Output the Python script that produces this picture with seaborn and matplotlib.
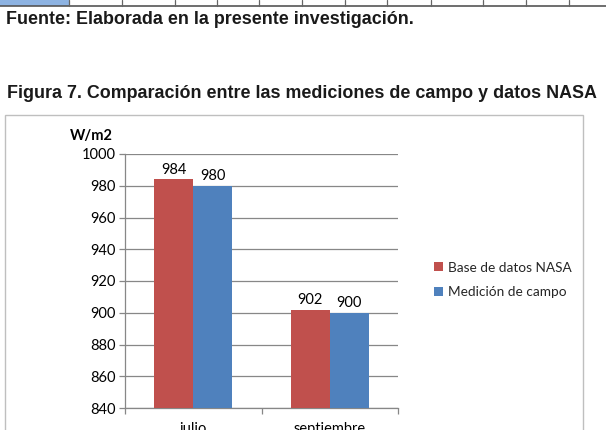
import matplotlib
matplotlib.use("Agg")
import matplotlib.pyplot as plt
import seaborn as sns
import pandas as pd
from matplotlib.patches import Rectangle
from matplotlib.lines import Line2D

# ---- data ----
months = ["julio", "septiembre"]
series = ["Base de datos NASA", "Medición de campo"]
nasa_values = [984, 902]
field_values = [980, 900]
y_ticks = [840, 860, 880, 900, 920, 940, 960, 980, 1000]

df = pd.DataFrame({
    "Mes": months * 2,
    "Serie": [series[0]] * 2 + [series[1]] * 2,
    "Valor": nasa_values + field_values,
})

sns.set_theme(style="white")
plt.rcParams["font.family"] = ["Lato", "DejaVu Sans"]

W, H = 606, 430
fig = plt.figure(figsize=(W / 100, H / 100), dpi=100)

def fx(px):
    return px / W

def fy(py):
    return 1 - py / H

# ---- document context: table fragment ----
fig.patches.append(Rectangle((0, fy(6)), fx(69), fy(0) - fy(6), transform=fig.transFigure,
                             facecolor="#8DB3E2", edgecolor="none"))
fig.lines.append(Line2D([0, 1], [fy(6), fy(6)], transform=fig.transFigure, color="#555555", lw=1.2))
for xv in [69, 122, 175, 217, 259, 302, 345, 387, 431, 483, 526, 569]:
    fig.lines.append(Line2D([fx(xv), fx(xv)], [fy(0), fy(6)], transform=fig.transFigure,
                            color="#666666", lw=0.9))

doc_font = dict(family=["Liberation Sans", "DejaVu Sans"], fontweight="bold", color="#1a1a1a")
fig.text(fx(6), fy(24), "Fuente: Elaborada en la presente investigación.", fontsize=12.9,
         va="baseline", ha="left", **doc_font)
fig.text(fx(7), fy(98), "Figura 7. Comparación entre las mediciones de campo y datos NASA",
         fontsize=12.9, va="baseline", ha="left", **doc_font)

# chart frame
fig.patches.append(Rectangle((fx(5), fy(440)), fx(583) - fx(5), fy(115) - fy(440),
                             transform=fig.transFigure, facecolor="none",
                             edgecolor="#BFBFBF", lw=1.0))

# ---- chart ----
ax = fig.add_axes([fx(125), fy(408), fx(398) - fx(125), fy(154) - fy(408)])
sns.barplot(data=df, x="Mes", y="Valor", hue="Serie", hue_order=series, order=months,
            palette=["#C0504D", "#4F81BD"], width=0.575, gap=0, saturation=1,
            edgecolor="none", linewidth=0, ax=ax, zorder=3)

ax.set_ylim(840, 1000)
ax.set_xlim(-0.5, 1.5)
ax.set_yticks(y_ticks)
ax.set_yticklabels([str(v) for v in y_ticks])
ax.yaxis.grid(True, color="#878787", lw=0.9, zorder=0)
ax.set_axisbelow(True)
for s in ["top", "right"]:
    ax.spines[s].set_visible(False)
for s in ["left", "bottom"]:
    ax.spines[s].set_color("#878787")
    ax.spines[s].set_linewidth(0.9)

ax.tick_params(axis="y", which="major", left=True, length=4, width=0.9, color="#878787",
               labelsize=10.5, labelcolor="#000000", pad=3)
ax.set_xticks([0, 1])
ax.set_xticklabels(months)
ax.set_xticks([-0.5, 0.5, 1.5], minor=True)
ax.tick_params(axis="x", which="major", length=0, labelsize=10.5, labelcolor="#000000", pad=10)
ax.tick_params(axis="x", which="minor", bottom=True, length=4, width=0.9, color="#878787")
ax.set_xlabel("Meses", fontsize=10.5, fontweight="bold", labelpad=1)
ax.xaxis.set_label_coords(0.485, -0.1, transform=ax.transAxes)
ax.set_ylabel("")

for cont in ax.containers:
    ax.bar_label(cont, fmt="%d", padding=2, fontsize=10.5, color="#000000")

ax.text(fx(113), fy(136), "W/m2", transform=fig.transFigure, ha="right", va="center",
        fontsize=10.5, fontweight="bold", color="#000000")

handles, labels = ax.get_legend_handles_labels()
leg = ax.legend(handles, labels, loc="center left", bbox_to_anchor=(fx(422), fy(280)),
                bbox_transform=fig.transFigure, frameon=False, fontsize=9.8,
                handlelength=0.65, handleheight=0.65, handletextpad=0.35, labelspacing=0.95)

fig.savefig("out.png", dpi=100)
